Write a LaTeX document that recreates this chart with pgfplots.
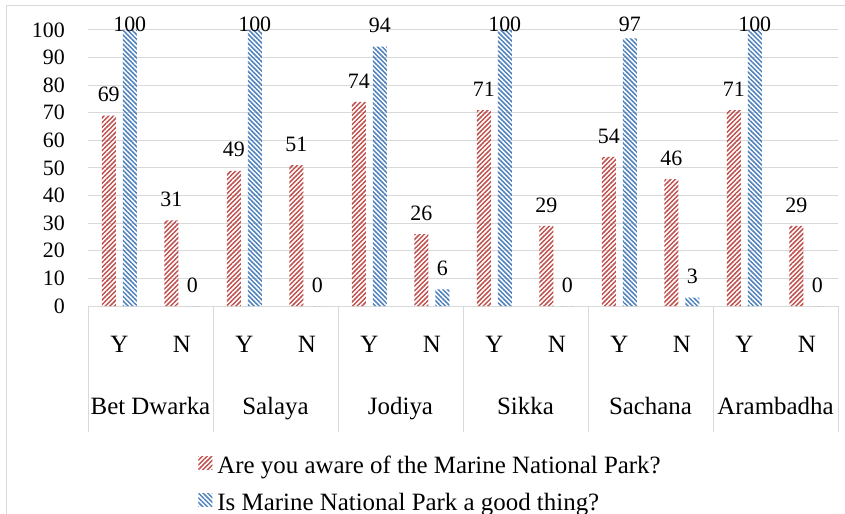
\documentclass[border=0pt]{standalone}
\usepackage{fontspec}
\setmainfont{Liberation Serif}
\usepackage{pgfplots}
\pgfplotsset{compat=1.18}
\usetikzlibrary{patterns.meta}
\definecolor{cred}{RGB}{192,80,77}
\definecolor{cblue}{RGB}{79,129,189}
\definecolor{lgray}{RGB}{217,217,217}
\newcommand{\bigf}{\fontsize{25}{30}\selectfont}
\newcommand{\smf}{\fontsize{22}{26}\selectfont}
\begin{document}
\begin{tikzpicture}
\useasboundingbox (0bp,0bp) rectangle (845bp,514bp);
\draw[lgray, line width=1bp] (6bp,-20bp) -- (6bp,508bp) -- (880bp,508bp);
\begin{axis}[
  at={(88bp,208bp)}, anchor=south west,
  scale only axis, width=750bp, height=276bp,
  xmin=-0.5, xmax=11.5, ymin=0, ymax=100,
  clip=false,
  /pgf/number format/assume math mode=true,
  axis lines=left,
  axis line style={-, lgray, line width=1bp},
  y axis line style={draw=none},
  ymajorgrids, grid style={lgray, line width=1bp},
  ytick={0,10,...,100},
  xtick={0,...,11},
  xticklabels={Y,N,Y,N,Y,N,Y,N,Y,N,Y,N},
  major tick length=0pt,
  xticklabel style={font=\bigf, anchor=base, yshift=-46bp},
  yticklabel style={font=\smf, anchor=east, inner sep=0pt, xshift=-23bp},
  extra x ticks={-0.5,1.5,3.5,5.5,7.5,9.5,11.5},
  extra x tick labels={},
  extra x tick style={major tick length=126bp, tick align=outside, tick style={lgray, line width=1bp}, grid=none},
  ybar=7bp, bar width=14bp,
  nodes near coords,
  visualization depends on={rawy \as \rawy},
  every node near coord/.append style={font=\smf, anchor=center, inner sep=0pt,
     yshift={min(21,(102.2-\rawy)*2.76)}},
  legend style={at={(0.147,-0.535)}, anchor=north west, draw=none, fill=none,
     font=\bigf, inner sep=0pt, row sep=14bp, cells={anchor=west}},
  legend columns=1,
]
\addplot[draw=none, pattern={Lines[angle=45,distance=3.3bp,line width=1.5bp]}, pattern color=cred,
  legend image code/.code={\fill[draw=none,pattern={Lines[angle=45,distance=3.3bp,line width=1.5bp]}, pattern color=cred] (0bp,-4bp) rectangle (14bp,9bp);}]
  coordinates {(0,69) (1,31) (2,49) (3,51) (4,74) (5,26) (6,71) (7,29) (8,54) (9,46) (10,71) (11,29)};
\addlegendentry{\hspace{3bp}Are you aware of the Marine National Park?}
\addplot[draw=none, pattern={Lines[angle=-45,distance=3.3bp,line width=1.5bp]}, pattern color=cblue,
  legend image code/.code={\fill[draw=none,pattern={Lines[angle=-45,distance=3.3bp,line width=1.5bp]}, pattern color=cblue] (0bp,-4bp) rectangle (14bp,9bp);}]
  coordinates {(0,100) (1,0) (2,100) (3,0) (4,94) (5,6) (6,100) (7,0) (8,97) (9,3) (10,100) (11,0)};
\addlegendentry{\hspace{3bp}Is Marine National Park a good thing?}
\node[font=\bigf, anchor=base, yshift=-108bp] at (axis cs:0.5,0) {Bet Dwarka};
\node[font=\bigf, anchor=base, yshift=-108bp] at (axis cs:2.5,0) {Salaya};
\node[font=\bigf, anchor=base, yshift=-108bp] at (axis cs:4.5,0) {Jodiya};
\node[font=\bigf, anchor=base, yshift=-108bp] at (axis cs:6.5,0) {Sikka};
\node[font=\bigf, anchor=base, yshift=-108bp] at (axis cs:8.5,0) {Sachana};
\node[font=\bigf, anchor=base, yshift=-108bp] at (axis cs:10.5,0) {Arambadha};
\end{axis}
\end{tikzpicture}
\end{document}
